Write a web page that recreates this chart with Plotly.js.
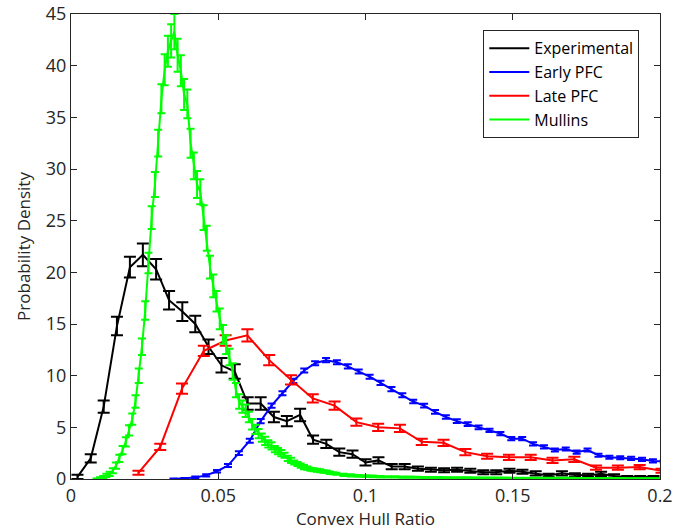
<!DOCTYPE html>
<html>
<head>
<meta charset="utf-8">
<script src="https://cdn.plot.ly/plotly-3.0.1.min.js"></script>
<style>html,body{margin:0;padding:0;background:#fff;}#chart{width:686px;height:532px;}</style>
</head>
<body>
<div id="chart"></div>
<script>
// ---- Experimental (black)
const expX = [0.0022,0.0067,0.0111,0.0156,0.0200,0.0244,0.0289,0.0333,0.0378,0.0422,0.0467,0.0511,0.0556,0.0600,0.0644,0.0689,0.0733,0.0778,0.0822,0.0867,0.0911,0.0956,0.1000,0.1044,0.1089,0.1133,0.1178,0.1222,0.1267,0.1311,0.1356,0.1400,0.1444,0.1489,0.1533,0.1578,0.1622,0.1667,0.1711,0.1756,0.1800,0.1844,0.1889,0.1933,0.1978];
const expY = [0.2,2.0,7.0,14.8,20.5,21.7,20.3,17.3,16.2,15.0,12.8,11.0,10.4,7.3,7.3,6.0,5.6,6.2,3.8,3.4,2.6,2.4,1.6,1.8,1.2,1.2,1.0,0.9,0.85,0.9,0.8,0.65,0.65,0.8,0.7,0.55,0.35,0.55,0.4,0.35,0.5,0.3,0.2,0.2,0.2];
const expErr = [0.2,0.4,0.6,0.9,1.0,1.1,1.0,0.9,0.9,0.8,0.7,0.7,0.7,0.6,0.6,0.5,0.5,0.6,0.4,0.4,0.35,0.35,0.3,0.3,0.25,0.25,0.2,0.2,0.2,0.2,0.2,0.2,0.2,0.2,0.2,0.2,0.15,0.2,0.15,0.15,0.2,0.15,0.1,0.1,0.1];

// ---- Early PFC (blue)
const earlyX = [0.0348,0.0385,0.0422,0.0459,0.0496,0.0533,0.0570,0.0607,0.0644,0.0681,0.0718,0.0755,0.0792,0.0829,0.0866,0.0903,0.0940,0.0977,0.1014,0.1051,0.1088,0.1125,0.1162,0.1199,0.1236,0.1273,0.1310,0.1347,0.1384,0.1421,0.1458,0.1495,0.1532,0.1569,0.1606,0.1643,0.1680,0.1717,0.1754,0.1791,0.1828,0.1865,0.1902,0.1939,0.1976,0.2013];
const earlyY = [0.0,0.05,0.15,0.35,0.75,1.3,2.5,3.7,5.6,7.1,8.3,9.5,10.5,11.2,11.5,11.3,10.9,10.4,9.9,9.3,8.7,8.1,7.5,7.1,6.5,6.0,5.6,5.3,5.0,4.7,4.4,3.9,3.9,3.4,3.1,2.8,2.9,2.6,2.8,2.3,2.1,2.05,2.0,1.9,1.75,1.7];
const earlyErr = [0.05,0.05,0.08,0.1,0.12,0.15,0.18,0.2,0.2,0.2,0.2,0.2,0.2,0.2,0.2,0.2,0.2,0.2,0.2,0.2,0.2,0.2,0.18,0.18,0.18,0.18,0.18,0.18,0.18,0.16,0.16,0.16,0.16,0.16,0.16,0.15,0.15,0.15,0.15,0.15,0.15,0.15,0.15,0.15,0.15,0.15];

// ---- Late PFC (red)
const lateX = [0.0229,0.0303,0.0377,0.0451,0.0525,0.0599,0.0673,0.0747,0.0821,0.0895,0.0969,0.1043,0.1117,0.1191,0.1265,0.1339,0.1413,0.1487,0.1561,0.1635,0.1709,0.1783,0.1857,0.1931,0.2005];
const lateY = [0.6,3.1,8.75,12.4,13.4,13.9,11.5,9.6,7.8,7.1,5.5,5.0,4.9,3.6,3.5,2.6,2.2,2.1,2.1,1.8,1.9,1.1,1.1,1.15,0.8];
const lateErr = [0.2,0.3,0.5,0.5,0.5,0.6,0.5,0.45,0.4,0.4,0.35,0.35,0.35,0.3,0.3,0.3,0.25,0.25,0.25,0.25,0.25,0.2,0.2,0.2,0.2];

// ---- Mullins (green)
const mullinsX = [0.0087,0.0098,0.0109,0.0120,0.0131,0.0142,0.0153,0.0164,0.0175,0.0186,0.0197,0.0208,0.0219,0.0230,0.0241,0.0252,0.0263,0.0274,0.0285,0.0296,0.0307,0.0318,0.0329,0.0340,0.0351,0.0362,0.0373,0.0384,0.0395,0.0406,0.0417,0.0428,0.0439,0.0450,0.0461,0.0472,0.0483,0.0494,0.0505,0.0516,0.0527,0.0538,0.0549,0.0560,0.0571,0.0582,0.0593,0.0604,0.0615,0.0626,0.0637,0.0648,0.0659,0.0670,0.0681,0.0692,0.0703,0.0714,0.0725,0.0736,0.0747,0.0758,0.0769,0.0780,0.0791,0.0802,0.0813,0.0824,0.0835,0.0846,0.0857,0.0868,0.0879,0.0890,0.0901,0.0925,0.0950,0.0975,0.1000,0.1025,0.1050,0.1075,0.1100,0.1125,0.1150,0.1175,0.1200,0.1225,0.1250,0.1275,0.1300,0.1325,0.1350,0.1375,0.1400,0.1425,0.1450,0.1475,0.1500,0.1525,0.1550,0.1575,0.1600,0.1625,0.1650,0.1675,0.1700,0.1725,0.1750,0.1775,0.1800,0.1825,0.1850,0.1875,0.1900,0.1925,0.1950,0.1975,0.2000];
const mullinsY = [0.0,0.1,0.2,0.35,0.5,0.8,1.3,2.0,2.8,3.6,4.7,5.8,7.5,10.0,12.8,16.3,20.9,25.3,28.5,32.5,36.8,39.6,41.4,42.4,43.3,41.0,39.5,37.2,36.3,32.5,30.3,28.5,27.8,25.3,23.3,20.5,18.7,17.2,15.5,14.0,13.0,11.8,10.4,8.6,7.5,7.0,6.6,6.0,5.3,4.8,4.4,4.0,3.7,3.4,3.2,2.9,2.7,2.5,2.3,2.0,1.8,1.6,1.45,1.3,1.15,1.05,0.95,0.9,0.85,0.8,0.72,0.7,0.6,0.55,0.5,0.4,0.35,0.3,0.28,0.25,0.22,0.2,0.2,0.18,0.17,0.16,0.15,0.15,0.14,0.13,0.13,0.12,0.12,0.11,0.11,0.1,0.1,0.1,0.09,0.09,0.09,0.08,0.08,0.08,0.07,0.07,0.07,0.06,0.06,0.06,0.05,0.05,0.05,0.05,0.04,0.04,0.04,0.04,0.04];
const mullinsErr = [0.05,0.08,0.1,0.15,0.2,0.25,0.3,0.35,0.4,0.45,0.5,0.55,0.6,0.7,0.8,0.9,1.0,1.1,1.2,1.3,1.4,1.5,1.5,1.6,1.7,1.6,1.5,1.5,1.4,1.4,1.3,1.3,1.2,1.2,1.2,1.1,1.1,1.0,1.0,0.9,0.9,0.8,0.8,0.7,0.7,0.6,0.6,0.5,0.5,0.45,0.45,0.4,0.4,0.35,0.35,0.3,0.3,0.3,0.25,0.25,0.25,0.2,0.2,0.2,0.2,0.15,0.15,0.15,0.15,0.15,0.12,0.12,0.12,0.1,0.1,0.1,0.1,0.08,0.08,0.08,0.08,0.06,0.06,0.06,0.06,0.05,0.05,0.05,0.05,0.05,0.05,0.05,0.05,0.04,0.04,0.04,0.04,0.04,0.04,0.04,0.04,0.04,0.04,0.04,0.04,0.04,0.04,0.04,0.04,0.04,0.04,0.04,0.04,0.04,0.04,0.04,0.04,0.04,0.04];

const seriesNames = ["Experimental","Early PFC","Late PFC","Mullins"];
const seriesColors = ["#000000","#0000ff","#ff0000","#00ff00"];
const xTicks = [0,0.05,0.1,0.15,0.2];
const xTickText = ["0","0.05","0.1","0.15","0.2"];
const yTicks = [0,5,10,15,20,25,30,35,40,45];

function mk(x,y,e,i,capw){
  return {
    x:x, y:y, type:'scatter', mode:'lines', name:seriesNames[i],
    line:{color:seriesColors[i], width:2},
    error_y:{type:'data', array:e, visible:true, color:seriesColors[i], thickness:2, width:capw},
    cliponaxis:true
  };
}
const traces = [
  mk(expX,expY,expErr,0,6),
  mk(earlyX,earlyY,earlyErr,1,4),
  mk(lateX,lateY,lateErr,2,6),
  mk(mullinsX,mullinsY,mullinsErr,3,4)
];
const fontFam = '"Open Sans", "DejaVu Sans", sans-serif';
const layout = {
  width:686, height:532,
  margin:{l:71, r:26, t:14, b:53},
  paper_bgcolor:'#fff', plot_bgcolor:'#fff',
  font:{family:fontFam, size:16, color:'#262626'},
  showlegend:true,
  legend:{x:0.70, y:0.965, xanchor:'left', yanchor:'top', bordercolor:'#262626', borderwidth:1,
          bgcolor:'#fff', font:{size:16, color:'#000'}, tracegroupgap:0, itemwidth:40},
  xaxis:{range:[0,0.2], tickvals:xTicks, ticktext:xTickText, ticks:'inside', ticklen:6,
         showline:true, mirror:'ticks', linecolor:'#262626', linewidth:1, tickcolor:'#262626',
         showgrid:false, zeroline:false, tickfont:{size:18, color:'#262626'},
         title:{text:'Convex Hull Ratio', font:{size:17, color:'#262626'}, standoff:6}},
  yaxis:{range:[0,45], tickvals:yTicks, ticks:'inside', ticklen:6,
         showline:true, mirror:'ticks', linecolor:'#262626', linewidth:1, tickcolor:'#262626',
         showgrid:false, zeroline:false, tickfont:{size:18, color:'#262626'},
         title:{text:'Probability Density', font:{size:17, color:'#262626'}, standoff:10}}
};
Plotly.newPlot('chart', traces, layout, {displayModeBar:false, staticPlot:true});
</script>
</body>
</html>
